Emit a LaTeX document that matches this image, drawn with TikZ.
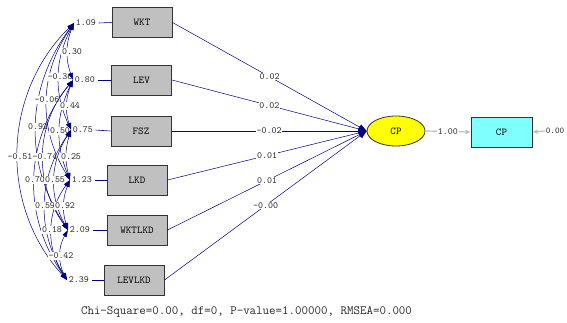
\documentclass[tikz,border=0pt]{standalone}
\usetikzlibrary{arrows.meta,shapes.geometric}
\definecolor{navy}{RGB}{0,0,128}
\definecolor{boxgray}{RGB}{192,192,192}
\definecolor{lgray}{RGB}{190,190,190}
\definecolor{cyanbox}{RGB}{128,255,255}
\definecolor{yel}{RGB}{255,255,0}
\tikzset{
  obs/.style={draw=black!80, line width=1pt, fill=boxgray, minimum width=60pt, minimum height=30pt, inner sep=0pt, font=\fontsize{10.5}{12}\selectfont\ttfamily},
  lbl/.style={font=\fontsize{9.5}{10}\selectfont\ttfamily, inner sep=0.6pt, text=black!85},
  lblw/.style={lbl, fill=white},
  path/.style={navy, line width=0.5pt, -{Triangle[length=8pt,width=6pt]}},
  cov/.style={navy, line width=0.5pt, {Triangle[length=7pt,width=4.5pt]}-{Triangle[length=7pt,width=4.5pt]}},
  gline/.style={lgray, line width=1.2pt, -{Triangle[length=5pt,width=4pt]}},
}
\begin{document}
\begin{tikzpicture}[x=1pt,y=-1pt]
\useasboundingbox (0,0) rectangle (567,322);
% observed boxes
\node[obs] (b1) at (142,22.5) {WKT};
\node[obs] (b2) at (141.5,80) {LEV};
\node[obs] (b3) at (141,131) {FSZ};
\node[obs] (b4) at (137,180) {LKD};
\node[obs] (b5) at (137,230) {WKTLKD};
\node[obs] (b6) at (134,280) {LEVLKD};
% variance points
\coordinate (v1) at (74,23);
\coordinate (v2) at (73,80);
\coordinate (v3) at (71,130);
\coordinate (v4) at (70,180);
\coordinate (v5) at (68,230);
\coordinate (v6) at (67,280);
\node[lbl,anchor=west] (l1) at (75,23) {1.09};
\node[lbl,anchor=west] (l2) at (74,80) {0.80};
\node[lbl,anchor=west] (l3) at (72,130) {0.75};
\node[lbl,anchor=west] (l4) at (71,180) {1.23};
\node[lbl,anchor=west] (l5) at (69,230) {2.09};
\node[lbl,anchor=west] (l6) at (68,280) {2.39};
\foreach \i in {1,...,6}{\draw[navy,line width=0.6pt] ([xshift=2pt]l\i.east) -- (b\i.west);}
% covariances
\draw[cov] (v1) to[bend right=44] (v6);
\node[lblw] at (20,157) {-0.51};
\draw[cov] (v1) to[bend right=35] (v5);
\node[lblw] at (38,127) {0.92};
\draw[cov] (v2) to[bend right=37] (v6);
\node[lblw] at (35,180) {0.70};
\draw[cov] (v1) to[bend right=33] (v4);
\node[lblw] at (47,100) {-0.06};
\draw[cov] (v2) to[bend right=38] (v5);
\node[lblw] at (45,157) {-0.74};
\draw[cov] (v3) to[bend right=33] (v6);
\node[lblw] at (45,206) {0.59};
\draw[cov] (v1) to[bend right=26] (v3);
\node[lblw] at (60,77) {-0.36};
\draw[cov] (v2) to[bend right=24] (v4);
\node[lblw] at (60,131) {0.50};
\draw[cov] (v3) to[bend right=31] (v5);
\node[lblw] at (55,180) {0.55};
\draw[cov] (v4) to[bend right=35] (v6);
\node[lblw] at (52,230) {0.18};
\draw[cov] (v1) to[bend right=21] (v2);
\node[lblw] at (72,52) {0.30};
\draw[cov] (v2) to[bend right=20] (v3);
\node[lblw] at (70,106) {0.44};
\draw[cov] (v3) to[bend right=16] (v4);
\node[lblw] at (71,157) {0.25};
\draw[cov] (v4) to[bend right=20] (v5);
\node[lblw] at (65,206) {0.92};
\draw[cov] (v5) to[bend right=29] (v6);
\node[lblw] at (61,256) {-0.42};
% latent
\node[ellipse, draw=black!80, line width=0.8pt, fill=yel, minimum width=58pt, minimum height=30pt, inner sep=0pt, font=\fontsize{10.5}{12}\selectfont\ttfamily] (cp) at (396,131) {CP};
\draw[path] (b1.east) -- node[lblw,pos=0.5]{0.02} (cp.west);
\draw[path] (b2.east) -- node[lblw,pos=0.5]{0.02} (cp.west);
\draw[path] (b3.east) -- node[lblw,pos=0.5]{-0.02} (cp.west);
\draw[path] (b4.east) -- node[lblw,pos=0.5]{0.01} (cp.west);
\draw[path] (b5.east) -- node[lblw,pos=0.5]{0.01} (cp.west);
\draw[path] (b6.east) -- node[lblw,pos=0.5]{-0.00} (cp.west);
% indicator
\node[obs, fill=cyanbox, minimum width=61pt] (cpb) at (501.5,132) {CP};
\draw[gline] (cp.east) -- node[lblw,pos=0.5]{1.00} (cpb.west);
\node[lbl,anchor=west,font=\fontsize{8.8}{10}\selectfont\ttfamily] (e) at (545,131) {0.00};
\draw[gline] (e.west) -- (cpb.east);
% fit
\node[font=\fontsize{12.6}{14}\selectfont\ttfamily, text=black!85] (fit) at (246.5,312) {Chi-Square=0.00, df=0, P-value=1.00000, RMSEA=0.000};
\end{tikzpicture}
\end{document}
